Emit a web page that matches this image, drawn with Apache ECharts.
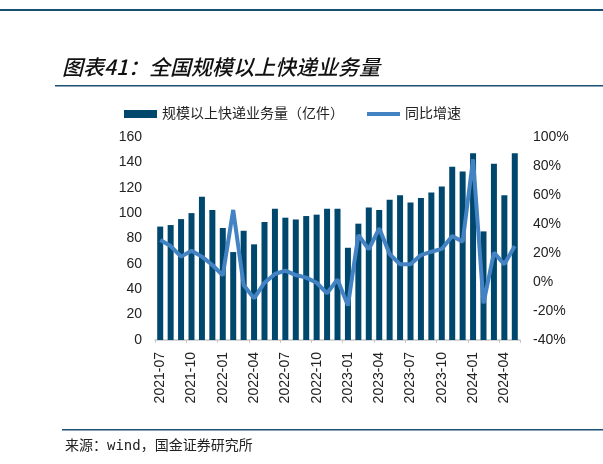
<!DOCTYPE html>
<html>
<head>
<meta charset="utf-8">
<script src="https://cdn.jsdelivr.net/npm/echarts@6/dist/echarts.min.js"></script>
<style>
html,body{margin:0;padding:0;background:#fff;}
#c{width:603px;height:464px;}
</style>
</head>
<body>
<div id="c"></div>
<script>
var categories = ['2021-07','2021-08','2021-09','2021-10','2021-11','2021-12',
  '2022-01','2022-02','2022-03','2022-04','2022-05','2022-06',
  '2022-07','2022-08','2022-09','2022-10','2022-11','2022-12',
  '2023-01','2023-02','2023-03','2023-04','2023-05','2023-06',
  '2023-07','2023-08','2023-09','2023-10','2023-11','2023-12',
  '2024-01','2024-02','2024-03','2024-04','2024-05'];
var volume = [89.4,90.6,95.3,100,112.9,102.4,
  88.3,69.3,86.1,75.4,93,103.5,
  96.4,95,97.7,98.8,103.5,103.5,
  72.7,91.7,104.5,102.4,110.6,114,
  108.4,111.9,116.3,121,136.6,132.9,
  147.1,85.6,138.9,114,147.1];
var yoy = [29,24.8,17.5,21.6,17.5,11.7,
  4.6,49.7,-2.1,-11.3,-0.5,5.5,
  7.8,4.8,3,-0.5,-7.8,1.8,
  -16.3,32.4,22.5,37,19.3,12.2,
  12.2,18.6,20.9,22.8,31.7,27.8,
  84.6,-14.7,20.2,12.2,24.8];
var leftTicks = [0,20,40,60,80,100,120,140,160];
var rightTicks = [-40,-20,0,20,40,60,80,100];

var chart = echarts.init(document.getElementById('c'));
var cjk = '"Liberation Sans","Noto Sans CJK SC",sans-serif';
chart.setOption({
  animation:false,
  backgroundColor:'#fff',
  graphic:[
    {type:'rect',shape:{x:0,y:9,width:603,height:2},style:{fill:'#1b4f72'}},
    {type:'text',left:62,top:57,style:{text:'图表41：全国规模以上快递业务量',font:'italic 500 21px "Noto Sans CJK SC"',fill:'#111'}},
    {type:'rect',shape:{x:55,y:85,width:548,height:1.5},style:{fill:'#1b4f72'}},
    {type:'rect',shape:{x:62,y:429,width:541,height:1.5},style:{fill:'#1b4f72'}},
    {type:'text',left:65,top:439,style:{text:'来源：wind，国金证券研究所',font:'14px "DejaVu Sans Mono","Noto Sans CJK SC"',fill:'#222'}}
  ],
  legend:[{
    top:107,left:124,padding:0,itemWidth:33,itemHeight:8,
    textStyle:{fontFamily:cjk,fontSize:14,color:'#222'},
    data:[{name:'规模以上快递业务量（亿件）',icon:'rect'}]
  },{
    top:107,left:367,padding:0,itemWidth:33,itemHeight:4,
    textStyle:{fontFamily:cjk,fontSize:14,color:'#222'},
    data:[{name:'同比增速',icon:'rect'}]
  }],
  grid:{left:155,top:137,width:365,height:203},
  xAxis:{
    type:'category',data:categories,boundaryGap:true,
    axisLine:{lineStyle:{color:'#c8c8c8',width:1.5}},
    axisTick:{show:true,alignWithLabel:false,length:3,lineStyle:{color:'#c8c8c8'}},
    axisLabel:{interval:2,rotate:90,fontFamily:'Liberation Sans',fontSize:14,color:'#222',margin:12}
  },
  yAxis:[
    {type:'value',min:0,max:160,interval:20,splitLine:{show:false},
     axisLine:{show:false},axisTick:{show:false},
     axisLabel:{fontFamily:'Liberation Sans',fontSize:14,color:'#222',margin:13}},
    {type:'value',min:-40,max:100,interval:20,splitLine:{show:false},
     axisLine:{show:false},axisTick:{show:false},
     axisLabel:{fontFamily:'Liberation Sans',fontSize:14,color:'#222',margin:13,formatter:'{value}%'}}
  ],
  series:[
    {name:'规模以上快递业务量（亿件）',type:'bar',data:volume,barWidth:6,
     itemStyle:{color:'#00476e'}},
    {name:'同比增速',type:'line',yAxisIndex:1,data:yoy,symbol:'none',
     lineStyle:{color:'#4383c4',width:4},itemStyle:{color:'#4383c4'}}
  ]
});
</script>
</body>
</html>
